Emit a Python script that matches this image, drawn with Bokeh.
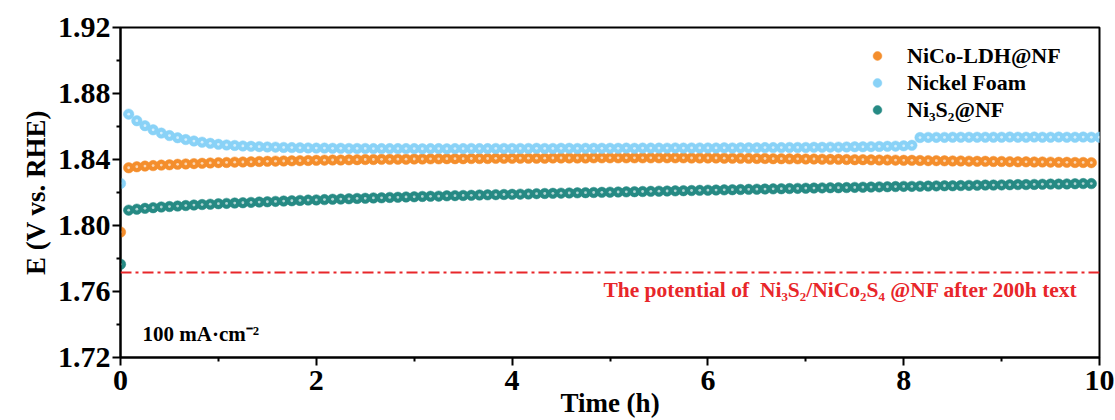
import numpy as np
from bokeh.plotting import figure
from bokeh.models import Range1d, Span, Label, Legend, LegendItem, FixedTicker, CustomJSTickFormatter
from bokeh.embed import file_html
from bokeh.resources import INLINE

# time grid (h), one point every 5 min
time_nf = np.arange(121) / 12.0
time_other = np.arange(120) / 12.0

nickel_foam = [
    1.8255, 1.8675, 1.8635, 1.8605, 1.8580, 1.8560, 1.8545, 1.8532, 1.8521, 1.8512, 1.8505, 1.8498,
    1.8492, 1.8488, 1.8485, 1.8482, 1.8480, 1.8478, 1.8476, 1.8475, 1.8473, 1.8472, 1.8471, 1.8470,
    1.8469, 1.8469, 1.8468, 1.8468, 1.8467, 1.8467, 1.8467, 1.8466, 1.8466, 1.8466, 1.8466, 1.8466,
    1.8466, 1.8465, 1.8466, 1.8466, 1.8465, 1.8466, 1.8466, 1.8467, 1.8466, 1.8466, 1.8467, 1.8467,
    1.8467, 1.8467, 1.8467, 1.8468, 1.8467, 1.8467, 1.8468, 1.8468, 1.8467, 1.8468, 1.8468, 1.8468,
    1.8468, 1.8468, 1.8469, 1.8468, 1.8469, 1.8469, 1.8469, 1.8469, 1.8470, 1.8469, 1.8470, 1.8470,
    1.8470, 1.8470, 1.8471, 1.8470, 1.8471, 1.8471, 1.8471, 1.8472, 1.8472, 1.8472, 1.8473, 1.8473,
    1.8473, 1.8474, 1.8474, 1.8475, 1.8475, 1.8476, 1.8477, 1.8477, 1.8478, 1.8479, 1.8480, 1.8481,
    1.8483, 1.8486, 1.8533, 1.8534, 1.8534, 1.8534, 1.8535, 1.8535, 1.8535, 1.8535, 1.8535, 1.8535,
    1.8535, 1.8536, 1.8535, 1.8535, 1.8536, 1.8535, 1.8535, 1.8536, 1.8535, 1.8535, 1.8536, 1.8535,
    1.8535,
]

nico_ldh = [
    1.7960, 1.8350, 1.8356, 1.8360, 1.8363, 1.8366, 1.8368, 1.8371, 1.8373, 1.8375, 1.8377, 1.8379,
    1.8381, 1.8382, 1.8384, 1.8385, 1.8386, 1.8388, 1.8389, 1.8390, 1.8391, 1.8392, 1.8393, 1.8394,
    1.8395, 1.8396, 1.8397, 1.8397, 1.8398, 1.8399, 1.8400, 1.8400, 1.8401, 1.8401, 1.8402, 1.8402,
    1.8403, 1.8403, 1.8404, 1.8404, 1.8405, 1.8405, 1.8405, 1.8406, 1.8406, 1.8406, 1.8407, 1.8407,
    1.8407, 1.8408, 1.8408, 1.8408, 1.8408, 1.8409, 1.8409, 1.8409, 1.8409, 1.8409, 1.8410, 1.8410,
    1.8410, 1.8410, 1.8410, 1.8410, 1.8410, 1.8410, 1.8410, 1.8410, 1.8410, 1.8410, 1.8409, 1.8409,
    1.8409, 1.8409, 1.8408, 1.8408, 1.8407, 1.8407, 1.8406, 1.8406, 1.8405, 1.8405, 1.8404, 1.8404,
    1.8403, 1.8403, 1.8402, 1.8401, 1.8401, 1.8400, 1.8399, 1.8399, 1.8398, 1.8397, 1.8397, 1.8396,
    1.8395, 1.8395, 1.8394, 1.8393, 1.8393, 1.8392, 1.8391, 1.8391, 1.8390, 1.8389, 1.8389, 1.8388,
    1.8388, 1.8387, 1.8386, 1.8386, 1.8385, 1.8385, 1.8384, 1.8383, 1.8383, 1.8382, 1.8382, 1.8381,
]

ni3s2 = [
    1.7765, 1.8093, 1.8099, 1.8104, 1.8108, 1.8112, 1.8115, 1.8118, 1.8121, 1.8124, 1.8127, 1.8129,
    1.8132, 1.8134, 1.8136, 1.8138, 1.8140, 1.8142, 1.8144, 1.8146, 1.8148, 1.8150, 1.8152, 1.8154,
    1.8155, 1.8157, 1.8159, 1.8160, 1.8162, 1.8164, 1.8165, 1.8167, 1.8168, 1.8170, 1.8171, 1.8173,
    1.8174, 1.8176, 1.8177, 1.8178, 1.8180, 1.8181, 1.8182, 1.8183, 1.8185, 1.8186, 1.8187, 1.8188,
    1.8189, 1.8190, 1.8191, 1.8193, 1.8194, 1.8195, 1.8196, 1.8197, 1.8198, 1.8199, 1.8200, 1.8201,
    1.8202, 1.8203, 1.8204, 1.8205, 1.8206, 1.8207, 1.8208, 1.8209, 1.8210, 1.8211, 1.8212, 1.8213,
    1.8214, 1.8215, 1.8216, 1.8217, 1.8218, 1.8219, 1.8220, 1.8221, 1.8222, 1.8223, 1.8224, 1.8225,
    1.8226, 1.8227, 1.8228, 1.8229, 1.8229, 1.8230, 1.8231, 1.8232, 1.8233, 1.8234, 1.8235, 1.8236,
    1.8237, 1.8237, 1.8238, 1.8239, 1.8240, 1.8241, 1.8241, 1.8242, 1.8243, 1.8244, 1.8245, 1.8245,
    1.8246, 1.8247, 1.8248, 1.8248, 1.8249, 1.8250, 1.8251, 1.8251, 1.8252, 1.8253, 1.8254, 1.8254,
]

reference_potential = 1.7715
x_ticks = [0, 2, 4, 6, 8, 10]
x_minor = [1, 3, 5, 7, 9]
y_ticks = [1.72, 1.76, 1.80, 1.84, 1.88, 1.92]
y_minor = [1.74, 1.78, 1.82, 1.86, 1.90]

FONT = "'Liberation Serif', 'Times New Roman', serif"
ORANGE = "#F48E2C"
BLUE = "#89D2F7"
TEAL = "#268A84"
RED = "#E8262A"

p = figure(width=1115, height=420, output_backend="svg", toolbar_location=None,
           x_range=Range1d(0, 10), y_range=Range1d(1.72, 1.92),
           min_border_left=120, min_border_right=16, min_border_top=27, min_border_bottom=63)
p.background_fill_color = "white"
p.border_fill_color = "white"
p.grid.visible = False
p.outline_line_color = "black"
p.outline_line_width = 2

series = [
    ("NiCo-LDH@NF", time_other, nico_ldh, ORANGE),
    ("Nickel Foam", time_nf, nickel_foam, BLUE),
    ("Ni\u2083S\u2082@NF", time_other, ni3s2, TEAL),
]
items = []
for name, t, v, col in series:
    r1 = p.scatter(t, v, size=10.5, marker="circle", fill_color=col, line_color=col, line_width=0.5)
    p.scatter(t, v, size=2.8, marker="circle", fill_color="white", fill_alpha=0.65, line_color=None)
    items.append(LegendItem(label=name, renderers=[r1]))

legend = Legend(items=items, location=(746, 234), border_line_color=None,
                background_fill_alpha=0, padding=0, margin=0, spacing=0,
                glyph_width=22, glyph_height=27, label_height=27, label_standoff=19,
                label_text_font=FONT, label_text_font_style="bold", label_text_font_size="22px",
                label_text_color="black")
p.add_layout(legend)

p.add_layout(Span(location=reference_potential, dimension="width", line_color=RED,
                  line_width=2, line_dash="11 4 3 4"))

p.add_layout(Label(x=9.78, y=1.7612,
                   text="The potential of \u00a0Ni\u2083S\u2082/NiCo\u2082S\u2084 @NF after 200h text",
                   text_align="right", text_baseline="middle", text_color=RED,
                   text_font=FONT, text_font_style="bold", text_font_size="21.5px"))
p.add_layout(Label(x=0.225, y=1.7345, text="100 mA\u00b7cm\u207b\u00b2",
                   text_align="left", text_baseline="middle", text_color="black",
                   text_font=FONT, text_font_style="bold", text_font_size="21px"))

for ax in (p.xaxis[0], p.yaxis[0]):
    ax.axis_line_width = 2
    ax.axis_line_color = "black"
    ax.major_tick_line_width = 2
    ax.minor_tick_line_width = 2
    ax.major_tick_out = 8
    ax.major_tick_in = 0
    ax.minor_tick_out = 4
    ax.minor_tick_in = 0
    ax.major_label_text_font = FONT
    ax.major_label_text_font_style = "bold"
    ax.major_label_text_font_size = "30px"
    ax.major_label_text_color = "black"
    ax.axis_label_text_font = FONT
    ax.axis_label_text_font_style = "bold"
    ax.axis_label_text_font_size = "27px"
    ax.axis_label_text_color = "black"

p.xaxis.ticker = FixedTicker(ticks=x_ticks, minor_ticks=x_minor)
p.yaxis.ticker = FixedTicker(ticks=y_ticks, minor_ticks=y_minor)
p.yaxis.formatter = CustomJSTickFormatter(code="return tick.toFixed(2);")
p.xaxis.axis_label = "Time (h)"
p.yaxis.axis_label = "E (V vs. RHE)"
p.xaxis.major_label_standoff = 5
p.yaxis.major_label_standoff = 2
p.xaxis.axis_label_standoff = -5
p.yaxis.axis_label_standoff = 4

open("out.html", "w").write(file_html(p, INLINE))
